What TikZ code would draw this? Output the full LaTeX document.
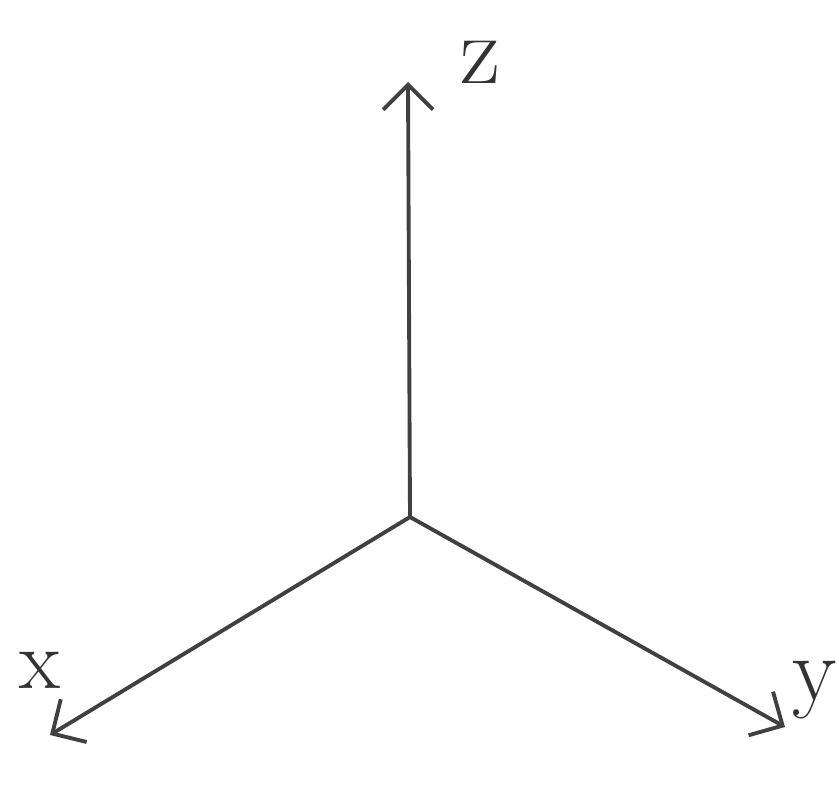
\documentclass[tikz,border=0pt]{standalone}
\usetikzlibrary{arrows.meta}

\begin{document}
\begin{tikzpicture}
            \useasboundingbox (0,0) rectangle (8.39,7.90);
            \coordinate (o) at (4.10,2.73);
            \coordinate (zt) at (4.08,7.08);
            \coordinate (xt) at (0.50,0.55);
            \coordinate (yt) at (7.85,0.63);
            \node[font=\fontsize{28}{30}\selectfont, text=black!80] (zl) at (4.80,7.28) {z};
            \node[font=\fontsize{24}{26}\selectfont, text=black!80] (xl) at (0.40,1.20) {x};
            \node[font=\fontsize{26}{28}\selectfont, text=black!80] (yl) at (8.15,1.00) {y};
            
            \draw[-{Straight Barb[length=2.5mm, width=5mm]}, line width=1.1pt, black!75] (o) -- (zt);
            \draw[-{Straight Barb[length=2.5mm, width=5mm]}, line width=1.1pt, black!75] (o) -- (xt);
            \draw[-{Straight Barb[length=2.5mm, width=5mm]}, line width=1.1pt, black!75] (o) -- (yt);
        \end{tikzpicture}
\end{document}
